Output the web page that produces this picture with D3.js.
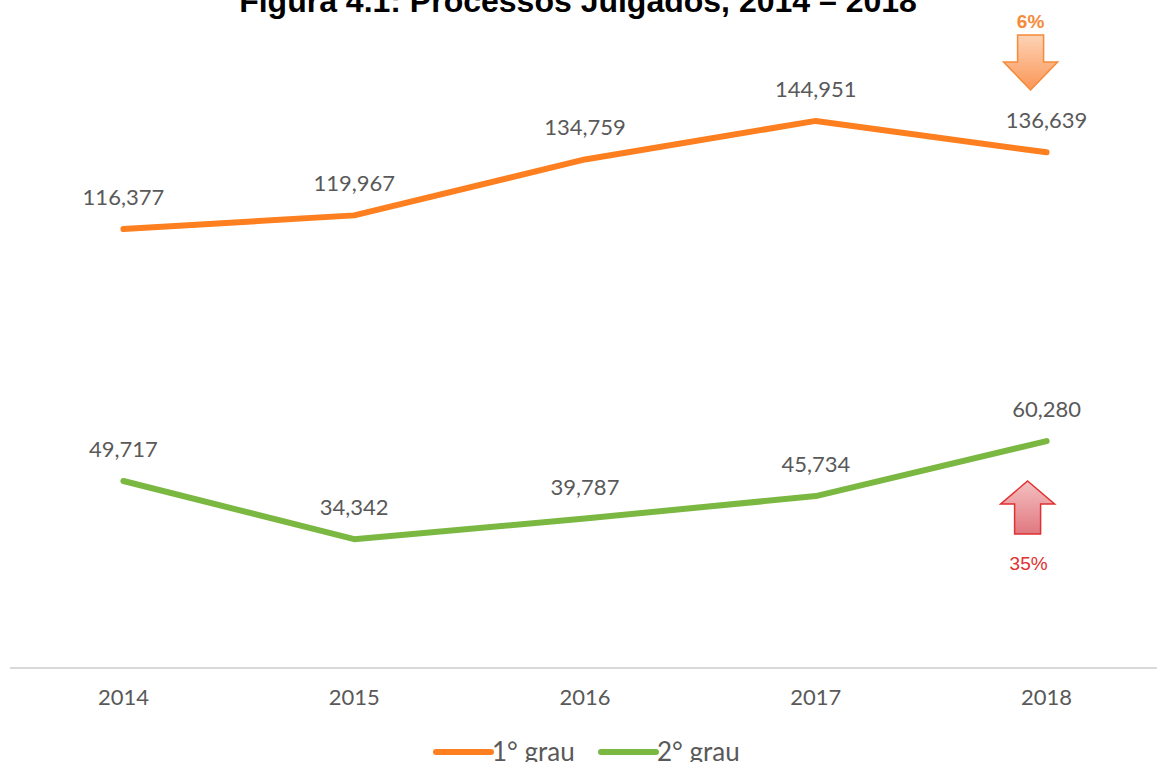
<!DOCTYPE html>
<html>
<head>
<meta charset="utf-8">
<script src="https://cdn.jsdelivr.net/npm/d3@7"></script>
<style>
  body { margin: 0; background: #fff; }
  svg { display: block; }
</style>
</head>
<body>
<svg id="chart"></svg>
<script>
// Data
const years = ["2014", "2015", "2016", "2017", "2018"];
const primeiroGrau = [116377, 119967, 134759, 144951, 136639];
const segundoGrau = [49717, 34342, 39787, 45734, 60280];
const seriesNames = ["1° grau", "2° grau"];
const seriesColors = ["#fd7f20", "#7ab842"];

const width = 1157;
const height = 762;
const labelFont = "'Lato', 'Open Sans', sans-serif";
const textColor = "#595959";

const svg = d3.select("#chart").attr("width", width).attr("height", height);

const x = d3.scaleBand().domain(years).range([8, 1162]);
const y = d3.scaleLinear().domain([0, 160000]).range([669, 64]);

// Title
svg.append("text")
  .attr("x", 578)
  .attr("y", 12)
  .attr("text-anchor", "middle")
  .style("font-family", "'Liberation Sans', Arial, sans-serif")
  .style("font-weight", "bold")
  .style("font-size", "32px")
  .attr("fill", "#000")
  .text("Figura 4.1: Processos Julgados, 2014 – 2018");

// Axis
const xAxis = d3.axisBottom(x).tickSize(0).tickPadding(21);
const gx = svg.append("g").attr("transform", "translate(0,668)").call(xAxis);
gx.select(".domain").attr("stroke", "#d9d9d9").attr("stroke-width", 2).attr("d", "M10,0H1157");
gx.selectAll("text")
  .style("font-family", labelFont)
  .style("font-size", "22px")
  .attr("fill", textColor);

const line = d3.line()
  .x((d, i) => x(years[i]) + x.bandwidth() / 2)
  .y(d => y(d));

[primeiroGrau, segundoGrau].forEach((vals, k) => {
  svg.append("path")
    .datum(vals)
    .attr("fill", "none")
    .attr("stroke", seriesColors[k])
    .attr("stroke-width", 6)
    .attr("stroke-linecap", "round")
    .attr("stroke-linejoin", "round")
    .attr("d", line);

  svg.selectAll(null)
    .data(vals)
    .enter()
    .append("text")
    .attr("x", (d, i) => x(years[i]) + x.bandwidth() / 2)
    .attr("y", d => y(d) - 24)
    .attr("text-anchor", "middle")
    .style("font-family", labelFont)
    .style("font-size", "22px")
    .attr("fill", textColor)
    .text(d => d3.format(",")(d));
});

// Change arrows (2018)
const defs = svg.append("defs");
const gOr = defs.append("linearGradient").attr("id", "gradOrange").attr("x1", 0).attr("y1", 0).attr("x2", 0).attr("y2", 1);
gOr.append("stop").attr("offset", "0%").attr("stop-color", "#fdd3b6");
gOr.append("stop").attr("offset", "100%").attr("stop-color", "#fb9656");
const gRd = defs.append("linearGradient").attr("id", "gradRed").attr("x1", 0).attr("y1", 0).attr("x2", 0).attr("y2", 1);
gRd.append("stop").attr("offset", "0%").attr("stop-color", "#f4c0c0");
gRd.append("stop").attr("offset", "100%").attr("stop-color", "#e07880");

const cx = x("2018") + x.bandwidth() / 2;

// down arrow
const ax = cx - 16;
svg.append("path")
  .attr("d", `M${ax - 13},35H${ax + 13}V62H${ax + 27}L${ax},90L${ax - 27},62H${ax - 13}Z`)
  .attr("fill", "url(#gradOrange)")
  .attr("stroke", "#f58a3a")
  .attr("stroke-width", 1.5);
svg.append("text")
  .attr("x", ax)
  .attr("y", 28)
  .attr("text-anchor", "middle")
  .style("font-family", "'Liberation Sans', Arial, sans-serif")
  .style("font-weight", "bold")
  .style("font-size", "19px")
  .attr("fill", "#f58a3a")
  .text("6%");

// up arrow
const bx = cx - 19;
svg.append("path")
  .attr("d", `M${bx},481L${bx + 27},504H${bx + 13}V534H${bx - 13}V504H${bx - 27}Z`)
  .attr("fill", "url(#gradRed)")
  .attr("stroke", "#e03030")
  .attr("stroke-width", 1.5);
svg.append("text")
  .attr("x", bx + 1)
  .attr("y", 570)
  .attr("text-anchor", "middle")
  .style("font-family", "'Liberation Sans', Arial, sans-serif")
  .style("font-size", "19px")
  .attr("fill", "#e03030")
  .text("35%");

// Legend
const legendX = [436, 601];
seriesNames.forEach((name, k) => {
  const g = svg.append("g").attr("transform", `translate(${legendX[k]},752)`);
  g.append("line")
    .attr("x1", 0).attr("x2", 55)
    .attr("stroke", seriesColors[k])
    .attr("stroke-width", 6)
    .attr("stroke-linecap", "round");
  g.append("text")
    .attr("x", 56)
    .attr("y", 9)
    .style("font-family", labelFont)
    .style("font-size", "26px")
    .attr("fill", textColor)
    .text(name);
});
</script>
</body>
</html>
